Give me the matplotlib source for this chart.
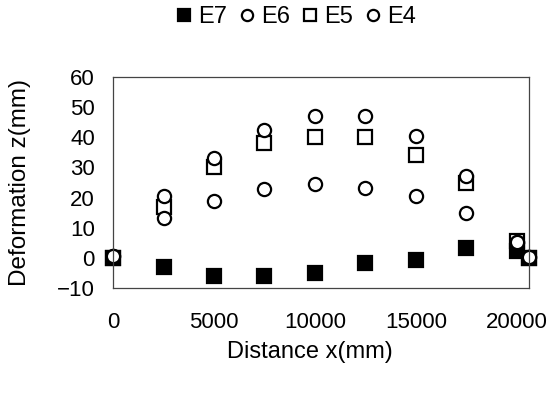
import matplotlib.pyplot as plt

plt.rcParams['font.family'] = ['Liberation Sans', 'DejaVu Sans']

# distance along the section (mm)
x = [0, 2500, 5000, 7500, 10000, 12500, 15000, 17500, 20000, 20600]

# deformation z (mm) per stage
e7 = [0, -3.1, -6.0, -6.0, -5.1, -1.8, -0.7, 3.2, 2.3, 0]
e6 = [0.5, 13.2, 18.7, 22.8, 24.5, 23.2, 20.4, 14.8, 5.2, 0.4]
e5 = [0, 17.0, 30.3, 38.0, 40.0, 40.0, 34.0, 24.8, 5.5, 0]
e4 = [0.5, 20.4, 33.0, 42.3, 47.0, 47.0, 40.3, 27.2, 5.2, 0.4]

fig = plt.figure(figsize=(5.5, 3.96), dpi=100)
ax = fig.add_axes([0.2055, 0.2727, 0.7563, 0.5329])

ms = 10
mew = 1.6
h5, = ax.plot(x, e5, ls='none', marker='s', ms=ms, mfc='white', mec='black', mew=mew, label='E5')
h7, = ax.plot(x, e7, ls='none', marker='s', ms=ms, mfc='black', mec='black', mew=mew, label='E7')
h6, = ax.plot(x, e6, ls='none', marker='o', ms=ms - 0.5, mfc='white', mec='black', mew=mew, label='E6')
h4, = ax.plot(x, e4, ls='none', marker='o', ms=ms - 0.5, mfc='white', mec='black', mew=mew, label='E4')

ax.set_xlim(0, 20600)
ax.set_ylim(-10, 60)
ax.set_xticks([0, 5000, 10000, 15000, 20000])
ax.set_yticks(range(-10, 61, 10))
ax.set_yticklabels(['\u221210'] + [str(v) for v in range(0, 61, 10)])
ax.tick_params(length=0, labelsize=16)
ax.tick_params(axis='y', pad=13)
ax.tick_params(axis='x', pad=17)
for sp in ax.spines.values():
    sp.set_color('#444444')
    sp.set_linewidth(0.9)
    sp.set_clip_on(False)

for h in (h5, h7, h6, h4):
    h.set_clip_on(False)

fig.text(310 / 550, 1 - 352 / 396, 'Distance x(mm)', fontsize=17, ha='center', va='center')
fig.text(20 / 550, 1 - 183 / 396, 'Deformation z(mm)', fontsize=17.5, ha='center', va='center',
         rotation=90)

fig.legend(handles=[h7, h6, h5, h4], labels=['E7', 'E6', 'E5', 'E4'],
           loc='center', bbox_to_anchor=(296 / 550, 1 - 17 / 396), ncol=4, frameon=False,
           fontsize=17, handlelength=0.7, handletextpad=0.25, columnspacing=0.5,
           markerscale=0.85)

fig.savefig('out.png', dpi=100)
